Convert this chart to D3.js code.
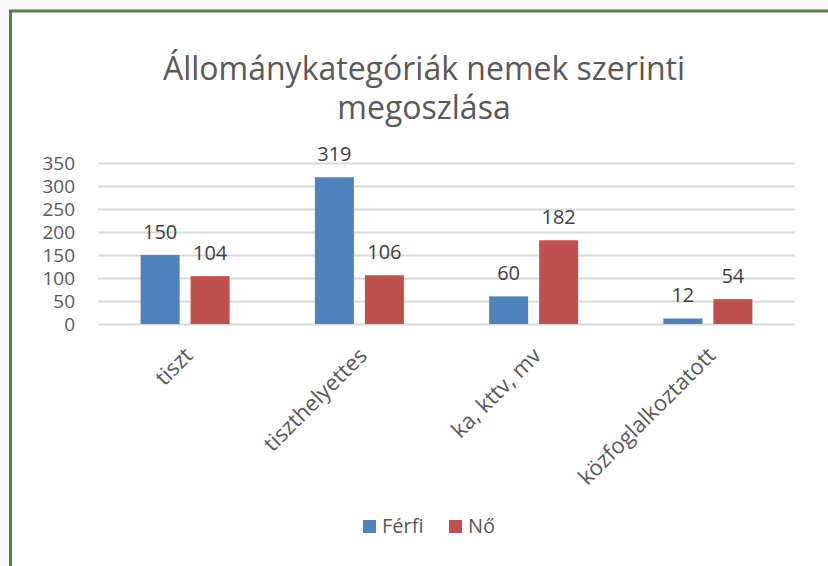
<!DOCTYPE html>
<html>
<head>
<meta charset="utf-8">
<script src="https://cdn.jsdelivr.net/npm/d3@7"></script>
<style>
  body { margin: 0; background: #f7f7f7; }
  svg { display: block; }
  text { font-family: "Open Sans", "Noto Sans", sans-serif; }
</style>
</head>
<body>
<svg id="chart" width="828" height="566"></svg>
<script>
const categories = ["tiszt", "tiszthelyettes", "ka, kttv, mv", "közfoglalkoztatott"];
const series = ["Férfi", "Nő"];
const ferfi = [150, 319, 60, 12];
const no = [104, 106, 182, 54];
const yTicks = [0, 50, 100, 150, 200, 250, 300, 350];
const colors = ["#4f81bd", "#c0504d"];

const svg = d3.select("#chart");
const W = 828, H = 566;

// keret
svg.append("rect")
    .attr("x", 10.5).attr("y", 11)
    .attr("width", W).attr("height", H)
    .attr("fill", "#fff")
    .attr("stroke", "#5a7f4a")
    .attr("stroke-width", 3);

const x = d3.scaleBand().domain(categories).range([98, 795]);
const x1 = d3.scaleBand().domain(series).range([0, 89]).paddingInner(0.22);
const y = d3.scaleLinear().domain([0, 350]).range([324, 163]);

// cím
svg.append("text")
    .attr("text-anchor", "middle")
    .attr("fill", "#595959")
    .style("font-size", "32px")
    .selectAll("tspan")
    .data(["Állománykategóriák nemek szerinti", "megoszlása"])
    .join("tspan")
    .attr("x", 424)
    .attr("y", (d, i) => 80 + i * 39)
    .text(d => d);

// rács + y tengely
const yAxis = svg.append("g")
    .attr("transform", "translate(98,0)")
    .call(d3.axisLeft(y).tickValues(yTicks).tickSize(-697).tickPadding(23));
yAxis.select(".domain").remove();
yAxis.selectAll(".tick line").attr("stroke", "#d9d9d9").attr("stroke-width", 2);
yAxis.selectAll(".tick text")
    .attr("fill", "#595959")
    .style("font-size", "19px");

// oszlopok
const rows = categories.map((c, i) => ({ cat: c, vals: [ferfi[i], no[i]] }));
const groups = svg.append("g").selectAll("g")
    .data(rows)
    .join("g")
    .attr("transform", d => `translate(${x(d.cat) + (x.bandwidth() - 89) / 2},0)`);

groups.selectAll("rect")
    .data(d => d.vals.map((v, j) => ({ s: series[j], v, j })))
    .join("rect")
    .attr("x", d => x1(d.s))
    .attr("width", x1.bandwidth())
    .attr("y", d => y(d.v))
    .attr("height", d => y(0) - y(d.v))
    .attr("fill", d => colors[d.j]);

groups.selectAll("text.val")
    .data(d => d.vals.map((v, j) => ({ s: series[j], v, j })))
    .join("text")
    .attr("class", "val")
    .attr("x", d => x1(d.s) + x1.bandwidth() / 2)
    .attr("y", d => y(d.v) - 16)
    .attr("text-anchor", "middle")
    .attr("fill", "#404040")
    .style("font-size", "20px")
    .text(d => d.v);

// x feliratok
svg.append("g").selectAll("text")
    .data(categories)
    .join("text")
    .attr("transform", d => `translate(${x(d) + x.bandwidth() / 2 + 9},357) rotate(-45)`)
    .attr("text-anchor", "end")
    .attr("fill", "#595959")
    .style("font-size", "22px")
    .text(d => d);

// jelmagyarázat
const legend = svg.append("g").selectAll("g")
    .data(series)
    .join("g")
    .attr("transform", (d, i) => `translate(${363 + i * 86},520)`);
legend.append("rect")
    .attr("width", 13).attr("height", 13)
    .attr("fill", (d, i) => colors[i]);
legend.append("text")
    .attr("x", 19).attr("y", 13)
    .attr("fill", "#595959")
    .style("font-size", "20px")
    .text(d => d);
</script>
</body>
</html>
